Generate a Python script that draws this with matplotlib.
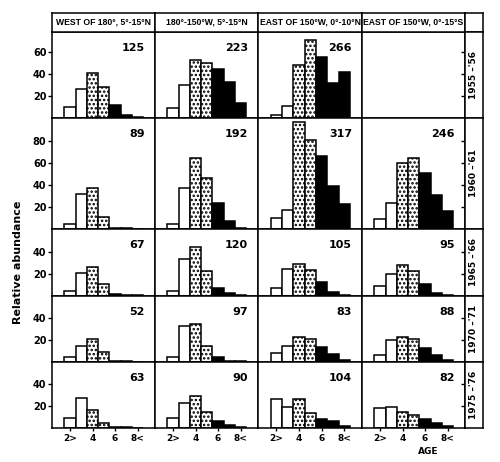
import matplotlib
matplotlib.use('Agg')
import matplotlib.pyplot as plt

# age classes (2 and younger ... 8 and older)
ages = [2, 3, 4, 5, 6, 7, 8]
age_ticks = [2, 4, 6, 8]
age_tick_labels = ['2>', '4', '6', '8<']

regions = ['WEST OF 180°, 5°-15°N', '180°-150°W, 5°-15°N',
           'EAST OF 150°W, 0°-10°N', 'EAST OF 150°W, 0°-15°S']
periods = ["1955 –'56", "1960 –'61", "1965 –'66", "1970 –'71", "1975 –'76"]

# sample sizes printed in each panel (None = no data)
n_1955 = [125, 223, 266, None]
n_1960 = [89, 192, 317, 246]
n_1965 = [67, 120, 105, 95]
n_1970 = [52, 97, 83, 88]
n_1975 = [63, 90, 104, 82]

# relative abundance by age, one list per region
abund_1955 = [[10, 26, 41, 28, 12, 3, 1],
              [9, 30, 53, 50, 44, 33, 14],
              [3, 11, 48, 71, 55, 32, 42],
              None]
abund_1960 = [[5, 32, 37, 11, 1, 0.5, 0],
              [5, 37, 65, 46, 24, 7, 1],
              [10, 17, 97, 81, 66, 39, 23],
              [9, 24, 60, 65, 51, 31, 16]]
abund_1965 = [[5, 21, 26, 11, 2, 1, 0.5],
              [5, 34, 45, 23, 7, 3, 1],
              [7, 25, 29, 24, 13, 4, 1],
              [9, 20, 28, 23, 11, 3, 1]]
abund_1970 = [[5, 15, 21, 9, 1, 0.5, 0],
              [5, 33, 35, 15, 5, 1, 0.5],
              [8, 15, 23, 21, 14, 7, 2],
              [6, 20, 23, 21, 13, 6, 2]]
abund_1975 = [[9, 27, 16, 5, 1, 0.5, 0],
              [9, 23, 29, 15, 6, 3, 0.5],
              [26, 19, 26, 14, 8, 6, 2],
              [18, 19, 15, 12, 8, 5, 2]]

counts = [n_1955, n_1960, n_1965, n_1970, n_1975]
abundance = [abund_1955, abund_1960, abund_1965, abund_1970, abund_1975]

plt.rcParams['font.family'] = ['DejaVu Sans']
plt.rcParams['hatch.linewidth'] = 1.2

W, H = 500, 462
fig = plt.figure(figsize=(W / 100, H / 100), dpi=100)


def box(x0, y0, x1, y1):
    # pixel box (from top-left) -> figure fraction
    return [x0 / W, 1 - y1 / H, (x1 - x0) / W, (y1 - y0) / H]


col_x = [52, 155, 258, 362, 465]
row_y = [32, 118, 229, 296, 362, 428]
row_top = [78, 101, 61, 60, 60]
row_ticks = [[20, 40, 60], [20, 40, 60, 80], [20, 40], [20, 40], [20, 40]]

fills = ['white', 'white', 'white', 'white', 'black', 'black', 'black']
hatches = [None, None, '....', '....', None, None, None]

for r in range(5):
    for c in range(4):
        ax = fig.add_axes(box(col_x[c], row_y[r], col_x[c + 1], row_y[r + 1]))
        vals = abundance[r][c]
        if vals is not None:
            for a, v, fc, h in zip(ages, vals, fills, hatches):
                ax.bar(a, v, width=1, color=fc, edgecolor='black',
                       linewidth=1.1, hatch=h)
            ax.annotate(str(counts[r][c]), xy=(1, 1), xycoords='axes fraction',
                        xytext=(-10, -16), textcoords='offset pixels',
                        ha='right', va='center', fontsize=8, fontweight='bold')
        ax.set_xlim(0.4, 9.55)
        ax.set_ylim(0, row_top[r])
        for s in ax.spines.values():
            s.set_linewidth(1.1)
        if r == 4:
            ax.set_xticks(age_ticks)
            ax.set_xticklabels(age_tick_labels, fontsize=6.5, fontweight='bold')
            ax.tick_params(axis='x', length=2, width=1, pad=2)
        else:
            ax.set_xticks([])
        if c == 0:
            ax.set_yticks(row_ticks[r])
            ax.set_yticklabels([str(t) for t in row_ticks[r]], fontsize=7,
                               fontweight='bold')
            ax.tick_params(axis='y', length=3, width=1, pad=1)
        elif c == 3:
            ax.set_yticks(row_ticks[r])
            ax.yaxis.tick_right()
            ax.tick_params(axis='y', direction='in', length=3, width=1,
                           labelright=False)
        else:
            ax.set_yticks([])

# column headers
for c in range(4):
    hax = fig.add_axes(box(col_x[c], 13, col_x[c + 1], 32))
    hax.set_xticks([])
    hax.set_yticks([])
    for s in hax.spines.values():
        s.set_linewidth(1.1)
    hax.text(0.5, 0.5, regions[c], ha='center', va='center', fontsize=6.2,
             fontweight='bold', family=['Liberation Sans', 'DejaVu Sans'],
             transform=hax.transAxes)
corner = fig.add_axes(box(465, 13, 483, 32))
corner.set_xticks([])
corner.set_yticks([])
for s in corner.spines.values():
    s.set_linewidth(1.1)

# period labels on the right
for r in range(5):
    lax = fig.add_axes(box(465, row_y[r], 483, row_y[r + 1]))
    lax.set_xticks([])
    lax.set_yticks([])
    for s in lax.spines.values():
        s.set_linewidth(1.1)
    lax.text(0.5, 0.5, periods[r], rotation=90, ha='center', va='center',
             fontsize=6.5, fontweight='bold', transform=lax.transAxes)

fig.text(18 / W, 1 - 262 / H, 'Relative abundance', rotation=90, ha='center',
         va='center', fontsize=8, fontweight='bold')
fig.text(428 / W, 1 - 451 / H, 'AGE', ha='center', va='center', fontsize=6.5,
         fontweight='bold')

fig.savefig('out.png', dpi=100)
